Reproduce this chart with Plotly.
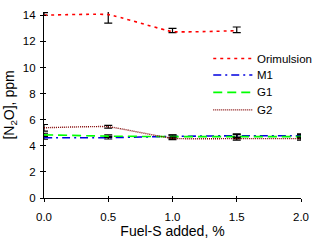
import plotly.graph_objects as go

x_ori = [0.0, 0.5, 1.0, 1.5]
y_ori = [14.0, 14.05, 12.75, 12.82]
ori_err_plus = [0.2, 0.4, 0.25, 0.28]
ori_err_minus = [0.0, 0.65, 0.08, 0.15]

x_all = [0.0, 0.5, 1.0, 1.5, 2.0]
y_m1 = [4.62, 4.62, 4.72, 4.77, 4.77]
y_g1 = [4.84, 4.74, 4.70, 4.70, 4.70]
y_g2 = [5.38, 5.46, 4.57, 4.55, 4.55]
m1_err = [0.12, 0.1, 0.12, 0.15, 0.15]
g1_err = [0.12, 0.1, 0.12, 0.15, 0.15]
g2_err = [0.25, 0.1, 0.1, 0.12, 0.12]

names = ["Orimulsion", "M1", "G1", "G2"]
colors = ["#FF0000", "#0000E0", "#00FF00", "#800000"]
dashes = ["3px,4px", "8px,4px,2px,4px", "9px,5px", "1px,1px"]
widths = [1.6, 1.6, 1.6, 1.4]

Y_MAX = 14.25
fig = go.Figure()

def add(xv, yv, ep, em, i):
    fig.add_trace(go.Scatter(
        x=xv, y=yv, name=names[i], mode="lines", showlegend=False,
        line=dict(color=colors[i], dash=dashes[i], width=widths[i], shape="spline", smoothing=0.35),
        error_y=dict(type="data", symmetric=False, array=ep, arrayminus=em,
                     color="black", thickness=1.2, width=4),
        cliponaxis=False,
    ))

add(x_ori, y_ori, ori_err_plus, ori_err_minus, 0)
add(x_all, y_m1, m1_err, m1_err, 1)
add(x_all, y_g1, g1_err, g1_err, 2)
add(x_all, y_g2, g2_err, g2_err, 3)

# manual legend (layout positions in paper coordinates)
L, R, T, B, W, H = 40, 15.3, 9, 45, 318, 246
pw, ph = W - L - R, H - T - B
def px(x):
    return (x - L) / pw
def py(y):
    return (H - B - y) / ph
leg_rows = [57, 74, 92, 110]
for i, yy in enumerate(leg_rows):
    fig.add_shape(type="line", xref="paper", yref="paper",
                  x0=px(213), x1=px(253), y0=py(yy), y1=py(yy),
                  line=dict(color=colors[i], dash=dashes[i], width=widths[i]))
    fig.add_annotation(xref="paper", yref="paper", x=px(256), y=py(yy),
                       text=names[i], showarrow=False, xanchor="left", yanchor="middle",
                       font=dict(size=11.5, color="black"))

fig.update_layout(
    width=W, height=H,
    margin=dict(l=L, r=R, t=T, b=B),
    paper_bgcolor="white", plot_bgcolor="white",
    font=dict(family="Liberation Sans, Arial", size=11.5, color="black"),
    showlegend=False,
    xaxis2=dict(overlaying="x", range=[0, 2], tickvals=[0, 0.5, 1.0, 1.5, 2.0],
                ticks="inside", ticklen=2, tickcolor="black", showticklabels=False,
                showgrid=False, zeroline=False, showline=False, side="bottom"),
    yaxis2=dict(overlaying="y", range=[0, Y_MAX], tickvals=list(range(0, 15, 2)),
                ticks="inside", ticklen=2, tickcolor="black", showticklabels=False,
                showgrid=False, zeroline=False, showline=False, side="left"),
)
fig.update_xaxes(selector=dict(overlaying=None))
fig.layout.xaxis.update(range=[0, 2], tickvals=[0, 0.5, 1.0, 1.5, 2.0],
                 ticktext=["0.0", "0.5", "1.0", "1.5", "2.0"],
                 showline=True, linecolor="black", linewidth=1.2,
                 ticks="outside", ticklen=3, tickcolor="black", ticklabelstandoff=5,
                 showgrid=False, zeroline=False,
                 title=dict(text="Fuel-S added, %", standoff=4))
fig.layout.yaxis.update(range=[0, Y_MAX], tickvals=list(range(0, 15, 2)),
                 showline=True, linecolor="black", linewidth=1.2,
                 ticks="outside", ticklen=3, tickcolor="black", ticklabelstandoff=2,
                 showgrid=False, zeroline=False,
                 title=dict(text="[N<sub>2</sub>O], ppm", standoff=4))
# invisible trace so overlay axes get drawn
fig.add_trace(go.Scatter(x=[None], y=[None], xaxis="x2", yaxis="y2", showlegend=False, hoverinfo="skip"))

fig.write_html("out.html")
